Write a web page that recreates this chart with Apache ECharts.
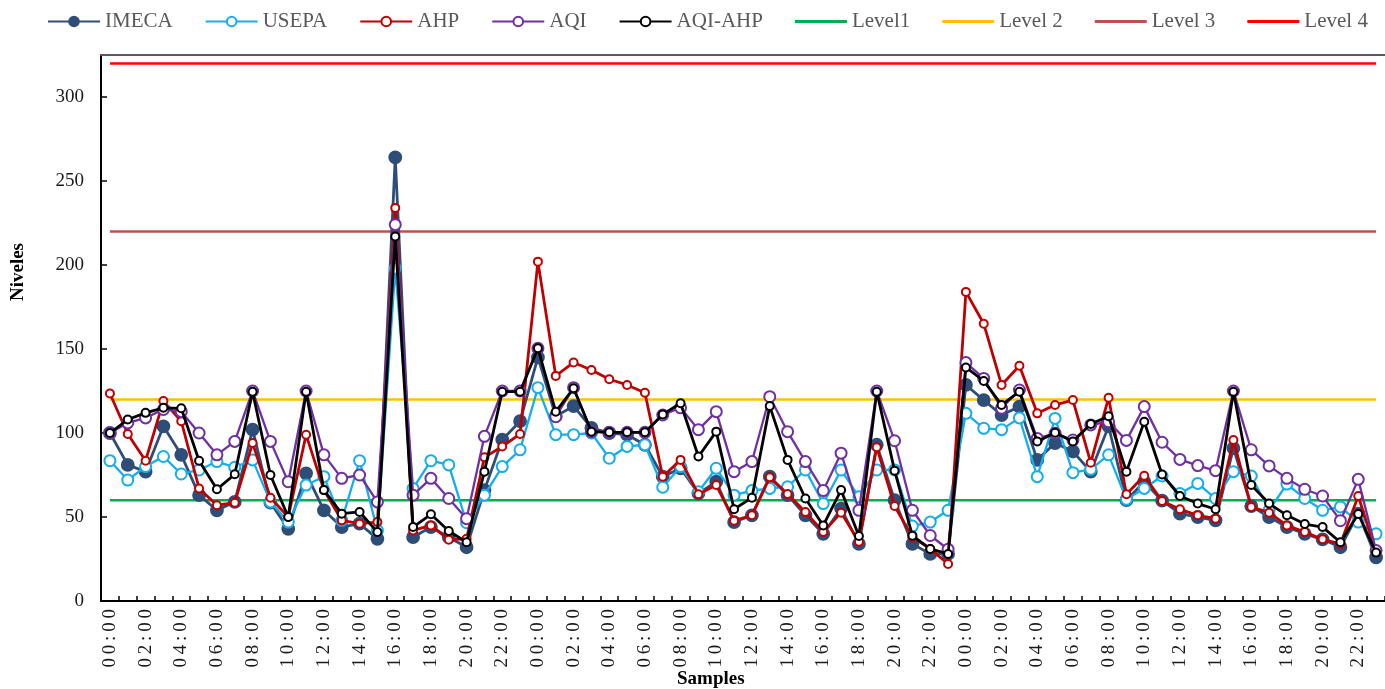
<!DOCTYPE html>
<html>
<head>
<meta charset="utf-8">
<script src="https://cdn.jsdelivr.net/npm/echarts@6/dist/echarts.min.js"></script>
<style>
  html, body { margin: 0; padding: 0; background: #fff; }
  #chart { width: 1385px; height: 689px; }
</style>
</head>
<body>
<div id="chart"></div>
<script>
// Hourly samples over three days
const hours = ['00:00','01:00','02:00','03:00','04:00','05:00','06:00','07:00','08:00','09:00','10:00','11:00',
               '12:00','13:00','14:00','15:00','16:00','17:00','18:00','19:00','20:00','21:00','22:00','23:00'];
const samples = [].concat(hours, hours, hours);

const imeca = [100,81,77,104,87,63,54,59,102,58.5,43,76,54,44,46,37,264,38,44,38,32,66,96,107,
               145,110,116,103,100,99,93,74,79,64,71,47,51,74,63,51,40,55,34,93,60,34,28,28,
               128.6,119.6,110.7,115.7,84,94,89,77,104,60,71,59.7,52,50,48,91,56.5,50,44,40,36.7,32,52,26];
const usepa = [83.5,72,80,86,75.6,78,83,79.6,84,59,47,69,74,48,83.5,42,198,67,83.5,81,46.6,63,80,90,
               127,99,99,100,85,92,93,67.7,80,65,79,63,65.7,67,68,78,58,78,62,78,78,44.6,47,54,
               111.7,102.8,102,109,74,108.7,76.4,78.4,87,60.5,67,74.4,64,70,61,77,74.4,54,69.6,61,54,56,47,40];
const ahp = [123.5,99.4,83.5,119,107,67,57,58.5,94,61.5,50,99,66,48,46,47,234,42,45,36.5,37,85.5,92,99.4,
             202,134,142,137.5,132,128.6,124,74,84,63.5,69,47.8,51,73.6,63.7,53,41,52.6,35.3,91.5,56.5,38,31,22,
             184,165,128.6,140,111.7,116.7,119.6,82.3,121,63.5,74.5,59.5,54.6,51,49,95.8,56,52.6,45,41,36.7,34,62.5,29];
const aqi = [100,106,109,114,112.7,100,87,95,125,95,71,125,87,73,75,59,224,63,73,61,49,98,125,125,
             150.4,109.7,127,100.8,100.4,100.4,100.4,110.7,115,102,112.7,77,83,121.6,100.8,83,65.7,88,54,125,95.4,54,39,30.8,
             141.9,132.5,114.7,125.6,96.8,99.8,95.8,104.8,106.7,95.6,115.7,94.5,84.3,80.6,77.6,125,90,80.4,73,66.5,62.5,47.8,72.4,30];
const aqiAhp = [100,108,112,115,114.7,83.5,66.5,75.4,124.6,75,50,124.6,66,52,53,41,217,44,51.6,41.7,35,77,124.6,124.6,
                150.4,112.7,126.6,100.8,100.4,100.4,100.4,111,117.7,86,100.8,54.6,61.5,116,84,61,45,66,38.7,124.6,77.6,38.9,31,28,
                139,131,116.7,124.6,95,100.2,95,105.4,110,77,106.7,75.3,62.5,58,54.6,124.6,69,58,51,45.8,44,35,51.8,28.8];

// Threshold levels
const levelNames = ['Level1', 'Level 2', 'Level 3', 'Level 4'];
const levelValues = [60, 120, 220, 320];
const levelColors = ['#00B050', '#FFC000', '#C0504D', '#FF0000'];

const yTicks = { min: 0, max: 325, interval: 50 };

const serif = '"Liberation Serif", "Times New Roman", serif';

const dataSeries = [
  { name: 'IMECA',   data: imeca,  color: '#2E4E78', symbol: 'circle',      size: 12, width: 2.8 },
  { name: 'USEPA',   data: usepa,  color: '#14AEEA', symbol: 'emptyCircle', size: 11, width: 2.3 },
  { name: 'AHP',     data: ahp,    color: '#C00000', symbol: 'emptyCircle', size: 8,  width: 2.8 },
  { name: 'AQI',     data: aqi,    color: '#7030A0', symbol: 'emptyCircle', size: 11, width: 2.3 },
  { name: 'AQI-AHP', data: aqiAhp, color: '#000000', symbol: 'emptyCircle', size: 8,  width: 2.8 }
];

const series = [];
levelNames.forEach(function (name, k) {
  series.push({
    name: name,
    type: 'line',
    data: [[0, levelValues[k]], [samples.length - 1, levelValues[k]]],
    symbol: 'none',
    color: levelColors[k],
    lineStyle: { color: levelColors[k], width: 2.5 },
    z: 5,
    animation: false
  });
});
dataSeries.forEach(function (s, k) {
  series.push({
    name: s.name,
    type: 'line',
    data: s.data,
    symbol: s.symbol,
    symbolSize: s.size,
    showAllSymbol: true,
    color: s.color,
    lineStyle: { color: s.color, width: s.width },
    itemStyle: { color: s.color, borderColor: s.color, borderWidth: 1.8 },
    z: 10 + k,
    animation: false
  });
});

// spread the sample-hour digits a little along the rotated labels
function spaced(label) {
  return label.split('').join('\u2009');
}

// legend entries: data series keep their marker, levels show a plain bar
const legendData = dataSeries.map(function (s) { return { name: s.name }; })
  .concat(levelNames.map(function (n) { return { name: n, icon: 'path://M0,0H52V3H0Z' }; }));

const chart = echarts.init(document.getElementById('chart'));
chart.setOption({
  backgroundColor: '#ffffff',
  animation: false,
  legend: {
    top: 6,
    left: 42,
    width: 1400,
    itemWidth: 52,
    itemHeight: 12,
    itemGap: 32,
    textStyle: { fontFamily: serif, fontSize: 21, color: '#595959' },
    data: legendData
  },
  grid: { left: 101, top: 55, width: 1288, bottom: 88, containLabel: false },
  xAxis: [{
    type: 'category',
    data: samples,
    boundaryGap: true,
    axisLine: { lineStyle: { color: '#000', width: 2 } },
    axisTick: { show: true, inside: true, length: 5, interval: 0, lineStyle: { color: '#000', width: 1.5 } },
    axisLabel: { interval: 1, rotate: 90, fontFamily: serif, fontSize: 19, color: '#1a1a1a', margin: 8,
                 formatter: spaced },
    splitLine: { show: false }
  }, {
    type: 'category',
    data: samples,
    position: 'top',
    axisLine: { lineStyle: { color: '#595959', width: 2 } },
    axisTick: { show: false },
    axisLabel: { show: false },
    splitLine: { show: false }
  }],
  yAxis: {
    type: 'value',
    min: yTicks.min,
    max: yTicks.max,
    interval: yTicks.interval,
    axisLine: { show: true, lineStyle: { color: '#000', width: 2 } },
    axisTick: { show: true, inside: true, length: 6, lineStyle: { color: '#000', width: 1.5 } },
    axisLabel: { showMaxLabel: false, fontFamily: serif, fontSize: 19, color: '#1a1a1a', margin: 17 },
    splitLine: { show: false }
  },
  graphic: [
    {
      type: 'text',
      left: 9, top: 243,
      rotation: Math.PI / 2,
      style: { text: 'Niveles', font: 'bold 19px ' + serif, fill: '#000' }
    },
    {
      type: 'text',
      left: 677, top: 670,
      style: { text: 'Samples', font: 'bold 19px ' + serif, fill: '#000' }
    }
  ],
  series: series
});
</script>
</body>
</html>
